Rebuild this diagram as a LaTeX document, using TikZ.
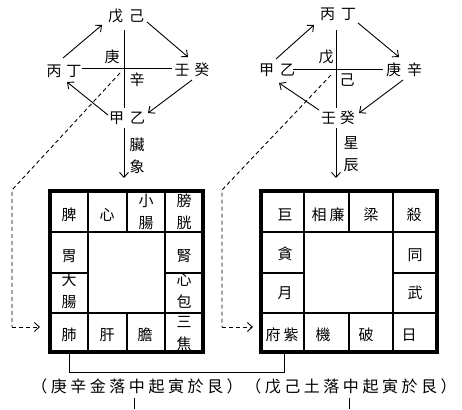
\documentclass[tikz,border=0pt]{standalone}
\usepackage{fontspec}
\newfontfamily\cjk{Noto Sans CJK TC}
\newfontfamily\cjkw{Noto Sans CJK TC}[LetterSpace=22]
\usetikzlibrary{arrows.meta,calc}
\begin{document}
\begin{tikzpicture}[x=1pt,y=-1pt,
  lbl/.style={font=\cjk\fontsize{15}{15}\selectfont, inner sep=0},
  cell/.style={font=\cjk\fontsize{15}{22}\selectfont, inner sep=0, align=center},
  btxt/.style={font=\cjkw\fontsize{16}{16}\selectfont, inner sep=0},
  con/.style={line width=0.9pt, -{Straight Barb[length=5pt,width=9pt]}},
  ln/.style={line width=0.9pt},
  dsh/.style={line width=0.9pt, dash pattern=on 4pt off 3pt},
  outerb/.style={line width=4.5pt},
  innerb/.style={line width=1.6pt}]
\useasboundingbox (0,0) rectangle (462,409);

% ---------- left diagram ----------
\coordinate (Lc) at (124,68);
\coordinate (Lvt) at (124,30);
\coordinate (Lvb) at (124,108);
\coordinate (Lhl) at (82,68);
\coordinate (Lhr) at (172,68);
\draw[ln] (Lvt) -- (Lvb);
\draw[ln] (Lhl) -- (Lhr);
\node[lbl] (Ltop) at (126,16) {戊\hspace{6pt}己};
\node[lbl] (Lleft) at (64,71) {丙\hspace{5pt}丁};
\node[lbl] (Lright) at (192,70) {壬\hspace{5pt}癸};
\node[lbl] (Lbot) at (127,118) {甲\hspace{6pt}乙};
\node[lbl] (Lg) at (112,57) {庚};
\node[lbl] (Lx) at (137,80) {辛};
\node[cell] (Lzx) at (137,156) {臟\\象};
\draw[con] ($(Lleft)+(-1,-13)$) -- ($(Ltop)+(-24,9)$);
\draw[con] ($(Ltop)+(21,6)$) -- ($(Lright)+(-4,-13)$);
\draw[con] ($(Lright)+(0,10)$) -- ($(Lbot)+(21,-5)$);
\draw[con] ($(Lbot)+(-19,-3)$) -- ($(Lleft)+(3,11)$);
\coordinate (Ldown) at (124,178);
\draw[con] ($(Lbot)+(-3,10)$) -- (Ldown);

% ---------- right diagram ----------
\coordinate (Rc) at (336,69);
\coordinate (Rvt) at (336,30);
\coordinate (Rvb) at (336,108);
\coordinate (Rhl) at (293,69);
\coordinate (Rhr) at (383,69);
\draw[ln] (Rvt) -- (Rvb);
\draw[ln] (Rhl) -- (Rhr);
\node[lbl] (Rtop) at (338,14) {丙\hspace{6pt}丁};
\node[lbl] (Rleft) at (277,70) {甲\hspace{6pt}乙};
\node[lbl] (Rright) at (404,70) {庚\hspace{6pt}辛};
\node[lbl] (Rbot) at (338,118) {壬\hspace{4pt}癸};
\node[lbl] (Rw) at (326,57) {戊};
\node[lbl] (Rj) at (347,80) {己};
\node[cell] (Rxc) at (351,154) {星\\辰};
\draw[con] ($(Rleft)+(-1,-11)$) -- ($(Rtop)+(-24,11)$);
\draw[con] ($(Rtop)+(20,9)$) -- ($(Rright)+(-5,-13)$);
\draw[con] ($(Rright)+(-1,10)$) -- ($(Rbot)+(21,-5)$);
\draw[con] ($(Rbot)+(-19,-8)$) -- ($(Rleft)+(2,13)$);
\coordinate (Rdown) at (336,178);
\draw[con] ($(Rbot)+(-2,10)$) -- (Rdown);

% ---------- dashed links ----------
\coordinate (Ld1) at (12,190);
\coordinate (Ld2) at (12,327);
\coordinate (Lin) at (40,327);
\draw[dsh] ($(Lc)+(-4,5)$) -- (Ld1) -- (Ld2);
\draw[dsh, -{Straight Barb[length=5pt,width=9pt]}] (Ld2) -- (Lin);
\coordinate (Rd1) at (222,190);
\coordinate (Rd2) at (222,327);
\coordinate (Rin) at (253,327);
\draw[dsh] ($(Rc)+(-5,6)$) -- (Rd1) -- (Rd2);
\draw[dsh, -{Straight Barb[length=5pt,width=9pt]}] (Rd2) -- (Rin);

% ---------- left grid ----------
\draw[innerb] (50,232) -- (203,232) (50,313) -- (203,313)
  (50,273) -- (88,273) (165,273) -- (203,273)
  (88,191) -- (88,352) (165,191) -- (165,352)
  (127,191) -- (127,232) (127,313) -- (127,352);
\draw[outerb] (50,191) rectangle (203,352);
\node[cell] (L11) at (69,215) {脾};
\node[cell] (L12) at (107,215) {心};
\node[cell] (L13) at (146,212) {小\\腸};
\node[cell] (L14) at (184,212) {膀\\胱};
\node[cell] (L21) at (69,256) {胃};
\node[cell] (L24) at (184,256) {腎};
\node[cell] (L31) at (69,291) {大\\腸};
\node[cell] (L34) at (184,291) {心\\包};
\node[cell] (L41) at (69,335) {肺};
\node[cell] (L42) at (107,335) {肝};
\node[cell] (L43) at (145,335) {膽};
\node[cell] (L44) at (184,334) {三\\焦};

% ---------- right grid ----------
\draw[innerb] (261,232) -- (437,232) (261,313) -- (437,313)
  (261,273) -- (304,273) (393,273) -- (437,273)
  (304,191) -- (304,352) (393,191) -- (393,352)
  (349,191) -- (349,232) (349,313) -- (349,352);
\draw[outerb] (261,191) rectangle (437,352);
\node[cell] (R11) at (285,215) {巨};
\node[cell] (R12) at (328,215) {相\hspace{3pt}廉};
\node[cell] (R13) at (371,215) {梁};
\node[cell] (R14) at (414,215) {殺};
\node[cell] (R21) at (285,254) {貪};
\node[cell] (R24) at (415,255) {同};
\node[cell] (R31) at (285,293) {月};
\node[cell] (R34) at (415,293) {武};
\node[cell] (R41) at (282,335) {府\hspace{3pt}紫};
\node[cell] (R42) at (323,335) {機};
\node[cell] (R43) at (366,335) {破};
\node[cell] (R44) at (409,335) {日};

% ---------- bracket & captions ----------
\coordinate (Bl) at (69,372);
\coordinate (Br) at (284,372);
\draw[ln] (69,354) -- (Bl) -- (Br) -- (284,354);
\node[btxt] (T1) at (137,386) {（庚辛金落中起寅於艮）};
\node[btxt] (T2) at (351,386) {（戊己土落中起寅於艮）};
\draw[ln] (134,398) -- (134,409);
\draw[ln] (349,398) -- (349,409);
\end{tikzpicture}
\end{document}
